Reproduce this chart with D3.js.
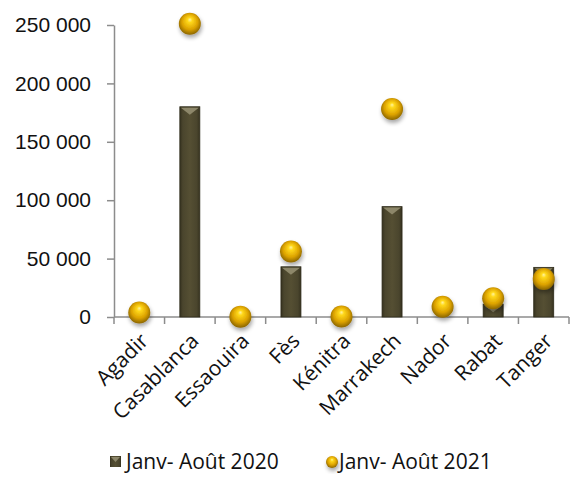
<!DOCTYPE html>
<html>
<head>
<meta charset="utf-8">
<script src="https://cdn.jsdelivr.net/npm/d3@7"></script>
<style>
  body { margin: 0; background: #fff; }
  svg { font-family: "Open Sans", "Noto Sans", sans-serif; }
  .axis path, .axis line { stroke: #8c8c8c; stroke-width: 1.5; }
  .axis text { font-size: 21px; fill: #111; }
</style>
</head>
<body>
<div id="chart"></div>
<script>
var svgWidth = 570;
var svgHeight = 485;

// data
var cities = ["Agadir", "Casablanca", "Essaouira", "Fès", "Kénitra", "Marrakech", "Nador", "Rabat", "Tanger"];
var values2020 = [0, 180000, 0, 43000, 0, 94500, 0, 11000, 42500];
var values2021 = [3800, 251000, 300, 56000, 400, 178000, 8800, 16000, 32500];
var seriesNames = ["Janv- Août 2020", "Janv- Août 2021"];
var yTicks = [0, 50000, 100000, 150000, 200000, 250000];

var plot = { left: 114, right: 569, top: 25, bottom: 317 };

var svg = d3.select("#chart")
  .append("svg")
  .attr("width", svgWidth)
  .attr("height", svgHeight);

var defs = svg.append("defs");

// bar gradient (dark edges, lighter middle)
var barGrad = defs.append("linearGradient")
  .attr("id", "barGrad")
  .attr("x1", "0%").attr("x2", "100%")
  .attr("y1", "0%").attr("y2", "0%");
barGrad.append("stop").attr("offset", "0%").attr("stop-color", "#36321f");
barGrad.append("stop").attr("offset", "15%").attr("stop-color", "#4a452d");
barGrad.append("stop").attr("offset", "50%").attr("stop-color", "#554f33");
barGrad.append("stop").attr("offset", "85%").attr("stop-color", "#4a452d");
barGrad.append("stop").attr("offset", "100%").attr("stop-color", "#36321f");

// ball gradient
var ballGrad = defs.append("radialGradient")
  .attr("id", "ballGrad")
  .attr("cx", "50%").attr("cy", "45%").attr("r", "55%")
  .attr("fx", "50%").attr("fy", "30%");
ballGrad.append("stop").attr("offset", "0%").attr("stop-color", "#fff3a0");
ballGrad.append("stop").attr("offset", "20%").attr("stop-color", "#ffd81a");
ballGrad.append("stop").attr("offset", "65%").attr("stop-color", "#dca200");
ballGrad.append("stop").attr("offset", "100%").attr("stop-color", "#8a6500");

var shadow = defs.append("filter")
  .attr("id", "shadow")
  .attr("x", "-50%").attr("y", "-50%")
  .attr("width", "200%").attr("height", "200%");
shadow.append("feGaussianBlur").attr("in", "SourceAlpha").attr("stdDeviation", 2);
shadow.append("feOffset").attr("dx", 1).attr("dy", 3).attr("result", "blur");
shadow.append("feComponentTransfer").append("feFuncA").attr("type", "linear").attr("slope", 0.35);
var merge = shadow.append("feMerge");
merge.append("feMergeNode");
merge.append("feMergeNode").attr("in", "SourceGraphic");

// scales
var xBounds = d3.scaleBand()
  .domain(cities)
  .range([plot.left, plot.right]);

var yScale = d3.scaleLinear()
  .domain([0, 250000])
  .range([plot.bottom, plot.top]);

var locale = d3.formatLocale({ decimal: ",", thousands: " ", grouping: [3], currency: ["", " €"] });
var fmt = locale.format(",d");

// y axis
var yAxis = svg.append("g")
  .attr("class", "axis")
  .attr("transform", `translate(${plot.left},0)`)
  .call(d3.axisLeft(yScale).tickValues(yTicks).tickFormat(fmt).tickSize(7).tickPadding(16).tickSizeOuter(0));

// x axis (ticks at category boundaries)
var xAxis = svg.append("g")
  .attr("class", "axis")
  .attr("transform", `translate(0,${plot.bottom})`);
xAxis.append("line")
  .attr("x1", plot.left).attr("x2", plot.right)
  .attr("y1", 0).attr("y2", 0);
xAxis.selectAll(".sep")
  .data(cities)
  .enter()
  .append("line")
  .attr("class", "sep")
  .attr("x1", d => xBounds(d) + xBounds.bandwidth())
  .attr("x2", d => xBounds(d) + xBounds.bandwidth())
  .attr("y1", 0).attr("y2", 7);
xAxis.append("line")
  .attr("x1", plot.left).attr("x2", plot.left)
  .attr("y1", 0).attr("y2", 7);

xAxis.selectAll(".lbl")
  .data(cities)
  .enter()
  .append("text")
  .attr("class", "lbl")
  .attr("text-anchor", "end")
  .attr("transform", d => `translate(${xBounds(d) + xBounds.bandwidth() / 2 + 5}, 20) rotate(-45)`)
  .attr("dy", "0.35em")
  .text(d => d);

// bars
var bars = svg.append("g").selectAll("g")
  .data(cities.map((c, i) => ({ city: c, value: values2020[i] })).filter(d => d.value > 0))
  .enter()
  .append("g");

var bw = 20;
bars.append("rect")
  .attr("x", d => xBounds(d.city) + xBounds.bandwidth() / 2 - bw / 2)
  .attr("y", d => yScale(d.value))
  .attr("width", bw)
  .attr("height", d => yScale(0) - yScale(d.value))
  .attr("fill", "url(#barGrad)")
  .attr("stroke", "#2e2b1a")
  .attr("stroke-width", 0.8);

// bevel triangle on top
bars.append("path")
  .attr("d", d => {
    var x0 = xBounds(d.city) + xBounds.bandwidth() / 2 - bw / 2;
    var y0 = yScale(d.value);
    var h = Math.min(8, yScale(0) - y0);
    return `M${x0 + 1},${y0 + 1}L${x0 + bw - 1},${y0 + 1}L${x0 + bw / 2},${y0 + h}Z`;
  })
  .attr("fill", "#8d876a");

// balls
svg.append("g").selectAll("circle")
  .data(cities.map((c, i) => ({ city: c, value: values2021[i] })))
  .enter()
  .append("circle")
  .attr("cx", d => xBounds(d.city) + xBounds.bandwidth() / 2)
  .attr("cy", d => yScale(d.value))
  .attr("r", 11)
  .attr("fill", "url(#ballGrad)")
  .attr("filter", "url(#shadow)");

// legend
var legend = svg.append("g").attr("font-size", 21).attr("fill", "#111");
legend.append("rect")
  .attr("x", 110).attr("y", 456)
  .attr("width", 11).attr("height", 11)
  .attr("fill", "url(#barGrad)");
legend.append("path")
  .attr("d", "M111,457L120,457L115.5,462Z")
  .attr("fill", "#8d876a");
legend.append("text")
  .attr("x", 126).attr("y", 469)
  .text(seriesNames[0]);

legend.append("circle")
  .attr("cx", 332).attr("cy", 462)
  .attr("r", 6)
  .attr("fill", "url(#ballGrad)")
  .attr("filter", "url(#shadow)");
legend.append("text")
  .attr("x", 339).attr("y", 469)
  .text(seriesNames[1]);
</script>
</body>
</html>
